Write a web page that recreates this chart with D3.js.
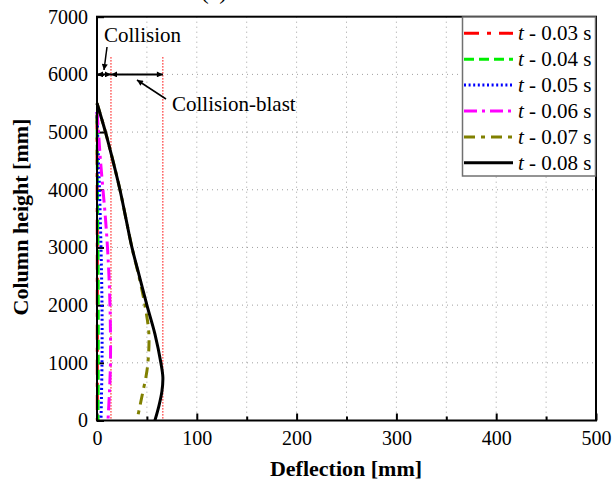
<!DOCTYPE html>
<html>
<head>
<meta charset="utf-8">
<script src="https://cdn.jsdelivr.net/npm/d3@7"></script>
<style>
  html, body { margin: 0; padding: 0; background: #fff; }
  svg { display: block; }
</style>
</head>
<body>
<svg id="chart" width="614" height="485"></svg>
<script>
// Column deflection profiles at successive times (height in mm, deflection in mm)
const seriesLabels = ["0.03", "0.04", "0.05", "0.06", "0.07", "0.08"];

const h003 = [5300, 4000, 3000, 2000, 1000, 0];
const d003 = [0, 0.2, 0.3, 0.3, 0.3, 0.3];

const h004 = [5300, 4000, 3000, 2000, 1000, 0];
const d004 = [0, 0.5, 1, 1.2, 1.2, 1];

const h005 = [5350, 4500, 4000, 3000, 2000, 1000, 0];
const d005 = [0, 1.5, 2.5, 4, 5, 5, 4];

const h006 = [5350, 5000, 4500, 4000, 3500, 3000, 2500, 2000, 1500, 1000, 500, 0];
const d006 = [0, 1.5, 3.5, 6, 8.5, 10.5, 12, 13, 13.5, 13.5, 12.5, 11];

const h007 = [5500, 5000, 4500, 4000, 3500, 3000, 2500, 2000, 1500, 1000, 750, 500, 250, 0];
const d007 = [0, 8.5, 16, 23, 29, 35, 42, 48, 52, 51, 49, 46, 43, 40];

const h008 = [5500, 5000, 4500, 4000, 3500, 3000, 2500, 2000, 1500, 1000, 750, 500, 250, 0];
const d008 = [0, 8.5, 16, 23, 29, 35, 42.5, 50, 58, 64, 66, 65, 62, 58];

// Reference lines and annotation values
const refLines = [14, 66];          // deflection of collision / collision-blast limits
const refTop = 6300;
const arrowHeight = 6000;

const xTicks = [0, 100, 200, 300, 400, 500];
const yTicks = [0, 1000, 2000, 3000, 4000, 5000, 6000, 7000];

const series = [
  { label: seriesLabels[0], h: h003, d: d003, color: "#ff0000", dash: "15,8,4,8" },
  { label: seriesLabels[1], h: h004, d: d004, color: "#00ee00", dash: "10,5" },
  { label: seriesLabels[2], h: h005, d: d005, color: "#0000ff", dash: "2,2.6" },
  { label: seriesLabels[3], h: h006, d: d006, color: "#ff00ff", dash: "13,5,3,5" },
  { label: seriesLabels[4], h: h007, d: d007, color: "#808000", dash: "11,6,4,6" },
  { label: seriesLabels[5], h: h008, d: d008, color: "#000000", dash: null }
];

const FONT = "'Liberation Serif', 'Times New Roman', Times, serif";

const svg = d3.select("#chart").attr("font-family", FONT);
const pLeft = 97, pRight = 596, pTop = 16.7, pBottom = 420.5;

const x = d3.scaleLinear().domain([0, 500]).range([pLeft, pRight]);
const y = d3.scaleLinear().domain([0, 7000]).range([pBottom, pTop]);

function txt(sel) { return sel.attr("font-family", FONT).attr("fill", "#000"); }

// Title (sits mostly above the view)
svg.append("text").attr("x", 214).attr("y", -1).attr("text-anchor", "middle")
  .attr("font-size", 24).call(txt).text("(a)");

// Grid
const grid = svg.append("g");
d3.range(50, 500, 50).forEach(v => {
  grid.append("line").attr("x1", x(v)).attr("x2", x(v)).attr("y1", pTop).attr("y2", pBottom)
    .attr("stroke", "#a0a0a0").attr("stroke-width", 1).attr("stroke-dasharray", "1,4");
});
d3.range(1000, 7000, 1000).forEach(v => {
  grid.append("line").attr("x1", pLeft).attr("x2", pRight).attr("y1", y(v)).attr("y2", y(v))
    .attr("stroke", "#a0a0a0").attr("stroke-width", 1).attr("stroke-dasharray", "1,4");
});

// Axes with inward ticks
const fmt = d3.format("d");
const xMinor = d3.axisBottom(x).tickValues(d3.range(50, 500, 100)).tickSize(-4).tickFormat("");
const xMajor = d3.axisBottom(x).tickValues(xTicks).tickSize(-7).tickPadding(10).tickFormat(fmt);
const yMajor = d3.axisLeft(y).tickValues(yTicks).tickSize(-7).tickPadding(9).tickFormat(fmt);

function styleAxis(g) {
  g.attr("font-family", FONT).attr("font-size", 20);
  g.select(".domain").remove();
  g.selectAll(".tick line").attr("stroke", "#000").attr("stroke-width", 2);
  g.selectAll(".tick text").attr("font-size", 20).call(txt);
}
svg.append("g").attr("transform", `translate(0,${pBottom})`).call(xMinor).call(styleAxis);
svg.append("g").attr("transform", `translate(0,${pBottom})`).call(xMajor).call(styleAxis);
svg.append("g").attr("transform", `translate(${pLeft},0)`).call(yMajor).call(styleAxis);

// Clip region for curves
svg.append("clipPath").attr("id", "plotClip").append("rect")
  .attr("x", pLeft - 2).attr("y", pTop).attr("width", pRight - pLeft + 2).attr("height", pBottom - pTop);

// Reference limit lines
refLines.forEach(v => {
  svg.append("line").attr("x1", x(v)).attr("x2", x(v)).attr("y1", y(refTop)).attr("y2", pBottom)
    .attr("stroke", "#ff0000").attr("stroke-width", 1).attr("stroke-dasharray", "1.5,1.5");
});

// Curves
const line = d3.line().x(p => x(p[1])).y(p => y(p[0])).curve(d3.curveCatmullRom);
const curves = svg.append("g").attr("clip-path", "url(#plotClip)");
series.forEach(s => {
  const pts = s.h.map((hv, i) => [hv, s.d[i]]);
  curves.append("path").attr("d", line(pts)).attr("fill", "none")
    .attr("stroke", s.color).attr("stroke-width", 3)
    .attr("stroke-dasharray", s.dash);
});

// Annotation arrows
const defs = svg.append("defs");
defs.append("marker").attr("id", "ah").attr("viewBox", "0 0 10 10").attr("refX", 10).attr("refY", 5)
  .attr("markerWidth", 9).attr("markerHeight", 6).attr("markerUnits", "userSpaceOnUse")
  .attr("orient", "auto-start-reverse")
  .append("path").attr("d", "M0,0 L10,5 L0,10 Z").attr("fill", "#000");

const ay = y(arrowHeight);
svg.append("line").attr("x1", x(0)).attr("x2", x(refLines[0])).attr("y1", ay).attr("y2", ay)
  .attr("stroke", "#000").attr("stroke-width", 2)
  .attr("marker-start", "url(#ah)").attr("marker-end", "url(#ah)");
svg.append("line").attr("x1", x(refLines[0])).attr("x2", x(refLines[1])).attr("y1", ay).attr("y2", ay)
  .attr("stroke", "#000").attr("stroke-width", 2)
  .attr("marker-start", "url(#ah)").attr("marker-end", "url(#ah)");

// Pointer arrows to labels
svg.append("line").attr("x1", 107).attr("y1", 47).attr("x2", 104).attr("y2", 70)
  .attr("stroke", "#000").attr("stroke-width", 1.5).attr("marker-end", "url(#ah)");
svg.append("line").attr("x1", 166).attr("y1", 99).attr("x2", 137).attr("y2", 80)
  .attr("stroke", "#000").attr("stroke-width", 1.5).attr("marker-end", "url(#ah)");

svg.append("text").attr("x", 104).attr("y", 42).attr("font-size", 21).call(txt).text("Collision");
svg.append("text").attr("x", 172).attr("y", 111).attr("font-size", 21).call(txt).text("Collision-blast");

// Frame
svg.append("rect").attr("x", pLeft).attr("y", pTop).attr("width", pRight - pLeft).attr("height", pBottom - pTop)
  .attr("fill", "none").attr("stroke", "#000").attr("stroke-width", 2);

// Legend
const lg = svg.append("g");
lg.append("rect").attr("x", 462.5).attr("y", 17).attr("width", 133).attr("height", 159)
  .attr("fill", "#fff").attr("stroke", "#707070").attr("stroke-width", 1.5);
series.forEach((s, i) => {
  const ly = 33.3 + i * 25.9;
  lg.append("line").attr("x1", 464).attr("x2", 513).attr("y1", ly).attr("y2", ly)
    .attr("stroke", s.color).attr("stroke-width", 3).attr("stroke-dasharray", s.dash);
  const t = lg.append("text").attr("x", 518).attr("y", ly + 7).attr("font-size", 21).call(txt);
  t.append("tspan").attr("font-style", "italic").text("t");
  t.append("tspan").text(" - " + s.label + " s");
});

// Axis titles
svg.append("text").attr("x", 346).attr("y", 476).attr("text-anchor", "middle")
  .attr("font-size", 22).attr("font-weight", "bold").call(txt).text("Deflection [mm]");
svg.append("text").attr("transform", "translate(28,217) rotate(-90)").attr("text-anchor", "middle")
  .attr("font-size", 22).attr("font-weight", "bold").call(txt).text("Column height [mm]");
</script>
</body>
</html>
